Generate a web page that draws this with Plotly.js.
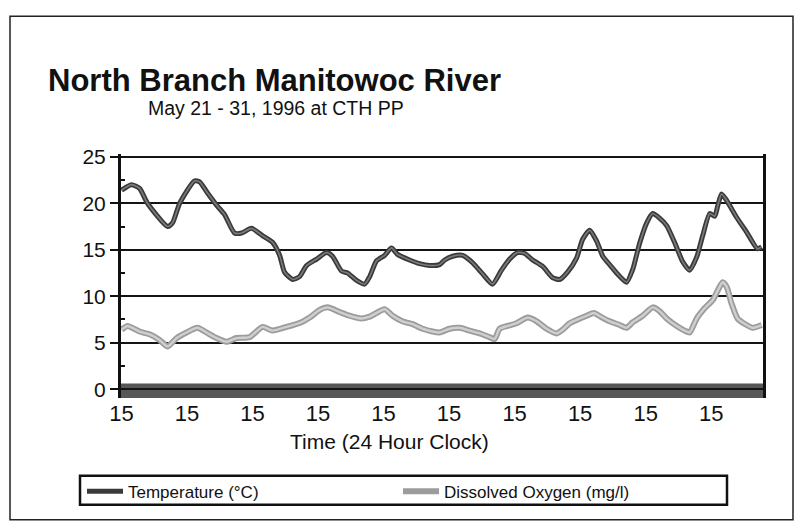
<!DOCTYPE html>
<html>
<head>
<meta charset="utf-8">
<script src="https://cdn.plot.ly/plotly-3.0.1.min.js"></script>
<style>html,body{margin:0;padding:0;background:#fff}#chart{width:794px;height:523px}</style>
</head>
<body>
<div id="chart"></div>
<script>
// Hours after May 21, 15:00
const tempHours = [0, 3.6, 6.6, 9.5, 16.9, 18.7, 21.3, 26.7, 28.6, 31.5, 34.8, 37.7, 41.4, 44.0, 47.6, 51.7, 55.3, 57.9, 59.7, 62.7, 65.2, 67.8, 71.5, 75.1, 77.3, 80.6, 82.8, 86.1, 89.0, 90.9, 93.4, 96.4, 98.9, 101.1, 105.5, 109.2, 112.9, 116.5, 118.4, 121.3, 125.0, 128.6, 132.3, 135.9, 139.2, 142.2, 145.1, 147.7, 150.6, 154.3, 157.9, 160.5, 163.4, 166.7, 168.9, 171.5, 174.1, 176.3, 178.8, 181.7, 185.0, 187.3, 189.8, 192.4, 194.6, 197.1, 199.7, 202.6, 205.6, 208.1, 210.7, 212.9, 215.5, 217.3, 218.4, 219.8, 221.7, 225.3, 229.0, 233.0, 234.5];
const tempValues = [21.4, 22.0, 21.6, 20.0, 17.5, 17.9, 20.0, 22.4, 22.3, 21.1, 19.8, 18.8, 16.8, 16.8, 17.3, 16.5, 15.8, 14.4, 12.6, 11.8, 12.1, 13.3, 14.0, 14.7, 14.3, 12.7, 12.5, 11.7, 11.3, 12.1, 13.8, 14.4, 15.2, 14.5, 13.9, 13.5, 13.3, 13.4, 13.9, 14.3, 14.4, 13.6, 12.4, 11.3, 12.8, 14.0, 14.7, 14.6, 13.9, 13.2, 12.0, 11.8, 12.6, 14.1, 16.1, 17.1, 15.9, 14.3, 13.4, 12.4, 11.5, 12.9, 15.7, 17.9, 18.9, 18.4, 17.6, 15.8, 13.7, 12.8, 14.2, 16.5, 18.9, 18.6, 19.7, 21.0, 20.3, 18.5, 16.9, 15.1, 15.3];

const doHours = [0, 2.2, 6.6, 10.3, 13.9, 16.9, 20.2, 23.8, 27.8, 31.1, 34.8, 38.5, 42.1, 46.9, 51.7, 55.3, 60.5, 65.9, 68.9, 72.5, 75.5, 79.9, 83.5, 87.9, 90.9, 96.4, 99.3, 102.9, 106.6, 110.3, 113.9, 116.5, 120.2, 123.9, 127.5, 131.2, 134.8, 136.7, 138.5, 141.4, 144.7, 148.8, 152.1, 155.7, 159.4, 161.6, 164.2, 167.1, 170.4, 173.0, 175.5, 178.8, 182.5, 185.0, 187.3, 190.9, 194.6, 197.1, 199.7, 203.4, 206.3, 208.1, 210.7, 213.6, 216.6, 218.4, 220.2, 221.7, 223.5, 225.7, 229.0, 231.2, 234.5];
const doValues = [6.4, 6.8, 6.2, 5.9, 5.3, 4.6, 5.5, 6.1, 6.6, 6.1, 5.5, 5.1, 5.5, 5.6, 6.7, 6.3, 6.7, 7.2, 7.7, 8.5, 8.8, 8.3, 7.9, 7.6, 7.8, 8.6, 7.9, 7.3, 7.0, 6.5, 6.2, 6.1, 6.5, 6.6, 6.3, 6.0, 5.6, 5.4, 6.5, 6.8, 7.1, 7.7, 7.3, 6.5, 6.0, 6.4, 7.1, 7.5, 7.9, 8.2, 7.8, 7.3, 6.9, 6.6, 7.2, 7.9, 8.8, 8.4, 7.6, 6.8, 6.3, 6.1, 7.6, 8.7, 9.6, 10.6, 11.5, 11.0, 9.2, 7.6, 6.9, 6.6, 6.9];

const xTickVals = [0, 24, 48, 72, 96, 120, 144, 168, 192, 216];
const xTickText = ["15", "15", "15", "15", "15", "15", "15", "15", "15", "15"];
const yTickVals = [0, 5, 10, 15, 20, 25];

const seriesNames = ["Temperature (°C)", "Dissolved Oxygen (mg/l)"];
const titleText = "North Branch Manitowoc River";
const subtitleText = "May 21 - 31, 1996 at CTH PP";
const xTitleText = "Time (24 Hour Clock)";

const FONT = "'Liberation Sans', Arial, sans-serif";
const plotL = 121, plotR = 763, plotT = 153.9, plotB = 398.2, W = 794, H = 523;
const px = v => (v - plotL) / (plotR - plotL);
const py = v => (plotB - v) / (plotB - plotT);

const traces = [
  {x: tempHours, y: tempValues, name: seriesNames[0], mode: "lines",
   line: {color: "#3a3a3a", width: 5, shape: "spline", smoothing: 0.6}},
  {x: tempHours, y: tempValues, mode: "lines", showlegend: false, hoverinfo: "skip",
   line: {color: "#7c7c7c", width: 1.6, shape: "spline", smoothing: 0.6}},
  {x: doHours, y: doValues, name: seriesNames[1], mode: "lines",
   line: {color: "#9c9c9c", width: 6, shape: "spline", smoothing: 0.6}},
  {x: doHours, y: doValues, mode: "lines", showlegend: false, hoverinfo: "skip",
   line: {color: "#cfcfcf", width: 2.4, shape: "spline", smoothing: 0.6}}
];

const layout = {
  width: W, height: H,
  margin: {l: plotL, r: W - plotR, t: plotT, b: H - plotB, pad: 0},
  paper_bgcolor: "#fff", plot_bgcolor: "#fff",
  font: {family: FONT, color: "#111"},
  showlegend: true,
  xaxis: {
    range: [-0.2, 235], tickvals: xTickVals, ticktext: xTickText,
    ticks: "", showgrid: false, zeroline: false, showline: false,
    tickfont: {size: 22, family: FONT, color: "#111"}, fixedrange: true
  },
  yaxis: {
    range: [-0.95, 25.3], tickvals: yTickVals, ticks: "outside", ticklen: 8, tickwidth: 2, tickcolor: "#111",
    showgrid: true, gridcolor: "#151515", gridwidth: 2.2, zeroline: false,
    showline: true, linecolor: "#111", linewidth: 3, mirror: true,
    minor: {dtick: 2.5, tick0: 0, ticks: "inside", ticklen: 4, tickwidth: 2, tickcolor: "#111", showgrid: false},
    tickfont: {size: 21, family: FONT, color: "#111"}, fixedrange: true
  },
  legend: {
    orientation: "h", x: px(82), xanchor: "left", y: py(474), yanchor: "top",
    borderwidth: 0, bgcolor: "rgba(0,0,0,0)",
    font: {size: 17, family: FONT, color: "#111"},
    entrywidth: 265, entrywidthmode: "pixels", itemwidth: 36, tracegroupgap: 0
  },
  shapes: [
    {type: "rect", xref: "paper", yref: "y", x0: 0, x1: 1, y0: -0.95, y1: 0.6,
     fillcolor: "#575757", line: {width: 0}, layer: "below"},
    {type: "rect", xref: "paper", yref: "paper", x0: px(10), x1: px(793), y0: py(520), y1: py(16),
     fillcolor: "rgba(0,0,0,0)", line: {color: "#222", width: 1.5}, layer: "below"},
    {type: "rect", xref: "paper", yref: "paper", x0: px(80), x1: px(727), y0: py(505), y1: py(476),
     fillcolor: "rgba(0,0,0,0)", line: {color: "#111", width: 2.5}, layer: "below"}
  ],
  annotations: [
    {text: "<b>" + titleText + "</b>", xref: "paper", yref: "paper", x: px(46), y: py(80),
     xanchor: "left", yanchor: "middle", showarrow: false, font: {size: 31, family: FONT, color: "#111"}},
    {text: subtitleText, xref: "paper", yref: "paper", x: px(146), y: py(108),
     xanchor: "left", yanchor: "middle", showarrow: false, font: {size: 19.5, family: FONT, color: "#111"}},
    {text: xTitleText, xref: "paper", yref: "paper", x: px(389), y: py(442),
     xanchor: "center", yanchor: "middle", showarrow: false, font: {size: 21, family: FONT, color: "#111"}}
  ]
};

Plotly.newPlot("chart", traces, layout, {displayModeBar: false, staticPlot: true});
</script>
</body>
</html>
